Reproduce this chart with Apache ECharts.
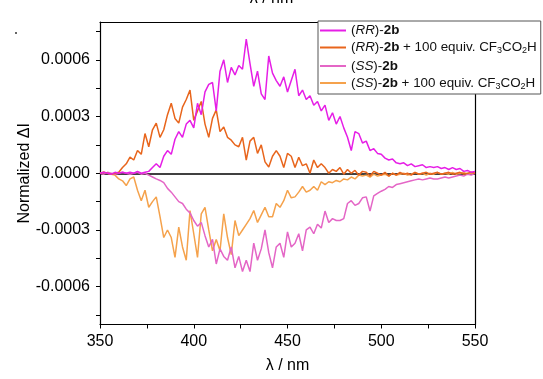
<!DOCTYPE html>
<html><head><meta charset="utf-8">
<script src="https://cdn.jsdelivr.net/npm/echarts@6/dist/echarts.min.js"></script>
<style>html,body{margin:0;padding:0;background:#fff}#c{width:543px;height:379px}</style>
</head><body><div id="c"></div>
<script>
// wavelength grid (nm)
const wavelengths = [];
for (let w = 350; w <= 550; w += 2) wavelengths.push(w);
// values in units of 1e-4
const rr2b = [0,0.05,0,-0.05,0.05,0,0.05,0,0.05,0,0.1,0,0.05,0.1,
 0.3,0.5,0.3,0.9,1.2,1.0,1.8,2.2,1.9,2.6,2.8,2.4,3.7,3.1,4.3,4.7,4.8,3.3,5.4,6.0,4.8,5.6,5.2,5.7,5.5,7.1,5.8,4.6,5.4,4.2,3.9,6.2,5.3,4.9,4.6,5.1,4.3,4.9,5.5,4.1,4.4,3.9,4.1,3.6,3.8,3.3,3.6,2.8,3.2,2.6,3.0,2.4,1.9,1.2,2.2,2.1,1.6,1.7,1.2,1.3,1.05,1.0,0.8,0.7,0.75,0.55,0.5,0.55,0.4,0.5,0.35,0.4,0.45,0.3,0.35,0.3,0.35,0.25,0.3,0.2,0.3,0.2,0.25,0.1,0.15,0.05,0.1];
const rr2bAcid = [0,0.05,0,-0.05,0,0.05,0.3,0.5,0.85,0.7,1.2,1.0,2.1,1.4,2.3,2.65,1.9,2.3,3.1,3.7,2.9,2.65,3.5,3.9,4.4,2.8,3.3,3.8,2.6,1.9,2.9,3.35,2.2,2.45,1.9,1.75,1.5,1.4,1.9,0.7,1.7,1.9,1.05,1.5,0.6,0.33,0.9,1.2,0.9,0.3,1.05,0.9,0.3,0.85,0.4,0.5,0.0,0.7,0.3,0.5,0.3,0.0,0.2,0.1,0.3,-0.05,0.2,0.0,0.15,-0.1,0.1,0.05,-0.15,0.1,0.0,-0.1,0.05,-0.15,0.0,-0.1,0.05,-0.05,0.0,-0.1,0.05,-0.05,0.0,0.05,-0.05,0.0,0.05,-0.05,0.0,0.05,-0.05,0.0,0.05,-0.05,0.0,0.05,0.0];
const ss2b = [0,-0.05,0.05,0,-0.05,0,0.05,0,-0.05,0,0.05,-0.05,0,-0.1,-0.2,-0.3,-0.38,-0.5,-0.8,-1.0,-1.25,-1.5,-1.6,-1.9,-2.1,-2.5,-2.8,-2.6,-3.3,-3.9,-3.5,-4.8,-4.0,-4.4,-4.6,-3.9,-5.0,-4.4,-5.2,-4.6,-5.2,-3.7,-4.6,-4.0,-3.0,-4.2,-5.0,-3.9,-3.7,-4.45,-3.1,-3.9,-3.7,-3.2,-4.1,-3.0,-2.85,-3.2,-2.7,-2.9,-2.0,-2.6,-2.4,-2.5,-2.5,-2.4,-1.6,-1.45,-1.7,-1.6,-1.3,-1.25,-2.0,-1.2,-1.07,-0.95,-0.85,-0.7,-0.75,-0.6,-0.55,-0.5,-0.45,-0.4,-0.35,-0.3,-0.35,-0.3,-0.25,-0.3,-0.3,-0.25,-0.2,-0.25,-0.2,-0.15,-0.1,-0.15,-0.05,-0.1,0.0];
const ss2bAcid = [0,0.05,0,-0.05,-0.1,-0.3,-0.4,-0.65,-0.3,-0.2,-0.9,-1.45,-0.9,-1.8,-1.5,-1.25,-2.3,-3.4,-3.0,-3.4,-4.45,-2.85,-3.9,-4.6,-1.97,-3.2,-4.45,-2.15,-1.8,-3.0,-4.1,-3.5,-4.1,-2.15,-3.4,-4.3,-2.5,-3.3,-3.0,-2.7,-2.4,-1.97,-2.6,-2.2,-1.8,-2.3,-2.3,-1.6,-1.8,-1.45,-0.9,-1.3,-1.25,-1.0,-0.7,-1.0,-0.9,-0.7,-0.9,-0.45,-0.6,-0.45,-0.5,-0.38,-0.45,-0.3,-0.35,-0.2,-0.3,-0.1,-0.15,-0.1,-0.2,-0.05,-0.15,-0.1,-0.05,-0.15,0.0,-0.1,-0.05,0.0,-0.1,-0.05,0.05,-0.05,0.0,-0.1,0.0,-0.05,0.05,-0.05,0.0,-0.05,0.05,-0.05,0.0,0.05,-0.05,0.0,0.0];
const SCALE = 1e-4;
const seriesNames = ['(RR)-2b','(RR)-2b + 100 equiv. CF3CO2H','(SS)-2b','(SS)-2b + 100 equiv. CF3CO2H'];
const seriesColors = ['#e61ee6','#e8651c','#e466c6','#f5a24c'];
const seriesValues = [rr2b, rr2bAcid, ss2b, ss2bAcid];
const yTickValues = [-0.00075,-0.0006,-0.00045,-0.0003,-0.00015,0,0.00015,0.0003,0.00045,0.0006,0.00075];
const yLabelValues = [-0.0006,-0.0003,0,0.0003,0.0006];
const xLabelValues = [350,400,450,500,550];

const legendRich = {
  n:{fontSize:13.4,fontFamily:'Liberation Sans',color:'#111'},
  i:{fontSize:13.4,fontFamily:'Liberation Sans',fontStyle:'italic',color:'#111'},
  b:{fontSize:13.4,fontFamily:'Liberation Sans',fontWeight:'bold',color:'#111'},
  s:{fontSize:9,fontFamily:'Liberation Sans',color:'#111',verticalAlign:'bottom',padding:[7,0,0,0]}
};
function legendFmt(name){
  const idx = seriesNames.indexOf(name);
  const cfg = idx % 2 === 0 ? '' : '{n| + 100 equiv. CF}{s|3}{n|CO}{s|2}{n|H}';
  const st = idx < 2 ? 'RR' : 'SS';
  return '{n|(}{i|' + st + '}{n|)-}{b|2b}' + cfg;
}

const chart = echarts.init(document.getElementById('c'), null, {renderer:'canvas'});
const series = seriesNames.map((nm, k) => ({
  name: nm, type:'line', symbol:'none', z: 10 - k,
  lineStyle:{color:seriesColors[k], width:1.5},
  itemStyle:{color:seriesColors[k]},
  data: wavelengths.map((w,i)=>[w, seriesValues[k][i]*SCALE]),
  animation:false
}));
series.push({
  type:'line', data:[], xAxisIndex:0, yAxisIndex:0, silent:true,
  markLine:{symbol:'none', silent:true, label:{show:false},
    lineStyle:{color:'#000', width:1.5, type:'solid'},
    data:[{yAxis:0}], animation:false}
});
chart.setOption({
  animation:false,
  grid:{left:100, right:68, top:22, bottom:54.5},
  legend:{
    data:seriesNames, orient:'vertical', left:318, top:21,
    padding:[3,4,3,2], itemGap:4, itemWidth:26, itemHeight:2, icon:'rect',
    backgroundColor:'#fff', borderColor:'#555', borderWidth:1,
    formatter:legendFmt, textStyle:{rich:legendRich, fontSize:13.4}
  },
  xAxis:[{
    type:'value', min:350, max:550, interval:25,
    axisLine:{show:true, onZero:false, lineStyle:{color:'#000', width:1.2}},
    axisTick:{show:true, length:4, lineStyle:{color:'#000'}},
    axisLabel:{customValues:xLabelValues, color:'#000', fontSize:16, fontFamily:'Liberation Sans', margin:9},
    splitLine:{show:false},
    name:'λ / nm', nameLocation:'middle', nameGap:33,
    nameTextStyle:{color:'#000', fontSize:16, fontFamily:'Liberation Sans'}
  },{
    type:'value', min:350, max:550, position:'top',
    axisLine:{show:true, onZero:false, lineStyle:{color:'#000', width:1.2}},
    axisTick:{show:false}, axisLabel:{show:false}, splitLine:{show:false}
  }],
  yAxis:[{
    type:'value', min:-0.0008, max:0.0008,
    axisLine:{show:true, onZero:false, lineStyle:{color:'#000', width:1.2}},
    axisTick:{show:true, length:4, customValues:yTickValues, lineStyle:{color:'#000'}},
    axisLabel:{customValues:yLabelValues, color:'#000', fontSize:16, fontFamily:'Liberation Sans', margin:10,
      formatter:v=>v.toFixed(4)},
    splitLine:{show:false},
    name:'Normalized ΔI', nameLocation:'middle', nameGap:67, nameRotate:90, nameMoveOverlap:false,
    nameTextStyle:{color:'#000', fontSize:16, fontFamily:'Liberation Sans'}
  },{
    type:'value', min:-0.0008, max:0.0008, position:'right',
    axisLine:{show:true, onZero:false, lineStyle:{color:'#000', width:1.2}},
    axisTick:{show:false}, axisLabel:{show:false}, splitLine:{show:false}
  }],
  graphic:[
    {type:'text', left:'center', top:-9, style:{text:'λ / nm', fontSize:16, fontFamily:'Liberation Sans', fill:'#000', x:277, textAlign:'center'}},
    {type:'circle', shape:{cx:16, cy:33, r:1}, style:{fill:'#333'}}
  ],
  series: series
});
</script></body></html>
